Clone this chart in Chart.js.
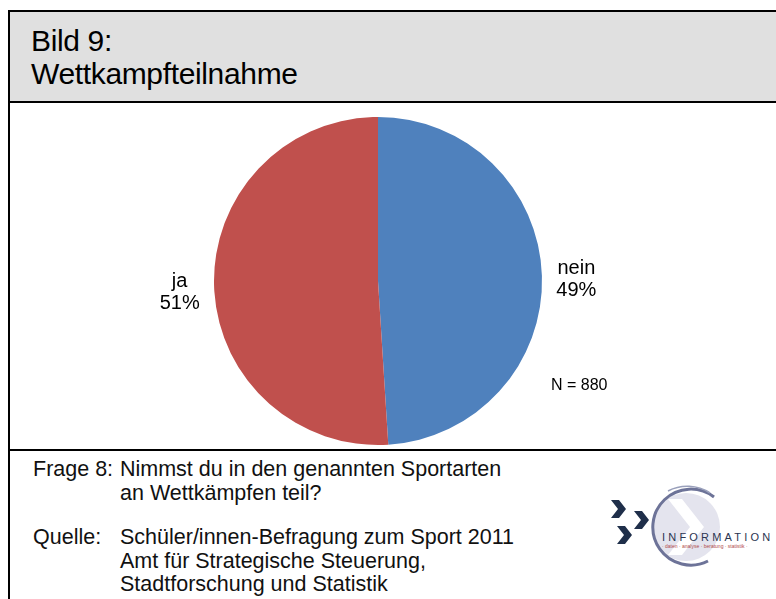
<!DOCTYPE html>
<html>
<head>
<meta charset="utf-8">
<script src="https://cdn.jsdelivr.net/npm/chart.js@4/dist/chart.umd.min.js"></script>
<style>
  body { margin: 0; background: #fff; font-family: "Liberation Sans", Arial, sans-serif; }
  #page { position: relative; width: 776px; height: 599px; overflow: hidden; }
  .frame-top { position: absolute; left: 8px; top: 10px; width: 800px; height: 2px; background: #000; }
  .frame-left { position: absolute; left: 8px; top: 10px; width: 2px; height: 600px; background: #000; }
  .header { position: absolute; left: 10px; top: 12px; width: 800px; height: 89px; background: #e0e0e0; }
  .line-head { position: absolute; left: 8px; top: 101px; width: 800px; height: 2px; background: #000; }
  .line-foot { position: absolute; left: 8px; top: 449px; width: 800px; height: 2px; background: #000; }
  .title { position: absolute; left: 31px; top: 24px; font-size: 30px; line-height: 33px; color: #000; letter-spacing: -0.35px; }
  #wrap { position: absolute; left: 10px; top: 103px; width: 766px; height: 346px; }
  .n { position: absolute; left: 551px; top: 376px; font-size: 16px; }
  .foot { position: absolute; left: 33px; font-size: 21.5px; line-height: 23.5px; color: #111; }
  .foot .k { position: absolute; left: 0; white-space: nowrap; }
  .foot .v { position: absolute; left: 87px; white-space: nowrap; }
  #logo { position: absolute; left: 598px; top: 485px; }
</style>
</head>
<body>
<div id="page">
  <div class="header"></div>
  <div class="frame-top"></div>
  <div class="frame-left"></div>
  <div class="line-head"></div>
  <div class="line-foot"></div>
  <div class="title">Bild 9:<br>Wettkampfteilnahme</div>
  <div id="wrap"><canvas id="c" width="766" height="346"></canvas></div>
  <div class="n">N = 880</div>
  <div class="foot" style="top:458px"><span class="k">Frage 8:</span><span class="v">Nimmst du in den genannten Sportarten<br>an Wettkämpfen teil?</span></div>
  <div class="foot" style="top:526px"><span class="k">Quelle:</span><span class="v">Schüler/innen-Befragung zum Sport 2011<br>Amt für Strategische Steuerung,<br>Stadtforschung und Statistik</span></div>
  <svg id="logo" width="178" height="90" viewBox="0 0 178 90">
    <circle cx="88" cy="42" r="34" fill="#e4e4ee"/>
    <path d="M70 14 L92 42 L70 70 L84 70 L106 42 L84 14 Z" fill="#fff"/>
    <path d="M116 12 A38 38 0 1 0 110 76" fill="none" stroke="#6d7398" stroke-width="3"/>
    <path d="M112 8 A42 42 0 0 0 70 6" fill="none" stroke="#9aa0bb" stroke-width="1.5"/>
    <path d="M13 15 L21 15 L28 24 L21 33 L13 33 L20 24 Z" fill="#1f2f4a"/>
    <path d="M36 26 L44 26 L51 35 L44 44 L36 44 L43 35 Z" fill="#1f2f4a"/>
    <path d="M19 41 L27 41 L34 50 L27 59 L19 59 L26 50 Z" fill="#1f2f4a"/>
    <text x="64" y="56" font-family="Liberation Sans, Arial" font-size="11" letter-spacing="3.2" fill="#2b3450">INFORMATION</text>
    <text x="64" y="63" font-family="Liberation Sans, Arial" font-size="5" fill="#b04a4a">· daten · analyse · beratung · statistik ·</text>
  </svg>
</div>
<script>
const categories = ['nein', 'ja'];
const shares = [49, 51];
const sliceColors = ['#4f81bd', '#c0504d'];

const sliceLabels = {
  id: 'sliceLabels',
  afterDatasetsDraw(chart) {
    const ctx = chart.ctx;
    const meta = chart.getDatasetMeta(0);
    ctx.save();
    ctx.font = '20px "Liberation Sans", Arial, sans-serif';
    ctx.fillStyle = '#000';
    ctx.textAlign = 'center';
    ctx.textBaseline = 'middle';
    meta.data.forEach((arc, i) => {
      const p = arc.getProps(['x', 'y', 'startAngle', 'endAngle', 'outerRadius'], true);
      const mid = (p.startAngle + p.endAngle) / 2;
      const r = p.outerRadius * 1.21;
      const x = p.x + Math.cos(mid) * r;
      const y = p.y + Math.sin(mid) * r + 5;
      ctx.fillText(categories[i], x, y - 11);
      ctx.fillText(shares[i] + '%', x, y + 11);
    });
    ctx.restore();
  }
};

new Chart(document.getElementById('c'), {
  type: 'pie',
  data: {
    labels: categories,
    datasets: [{
      data: shares,
      backgroundColor: sliceColors,
      borderWidth: 0
    }]
  },
  options: {
    responsive: false,
    animation: false,
    layout: { padding: { left: 203, right: 233, top: 14, bottom: 4 } },
    plugins: {
      legend: { display: false },
      tooltip: { enabled: false }
    }
  },
  plugins: [sliceLabels]
});
</script>
</body>
</html>
